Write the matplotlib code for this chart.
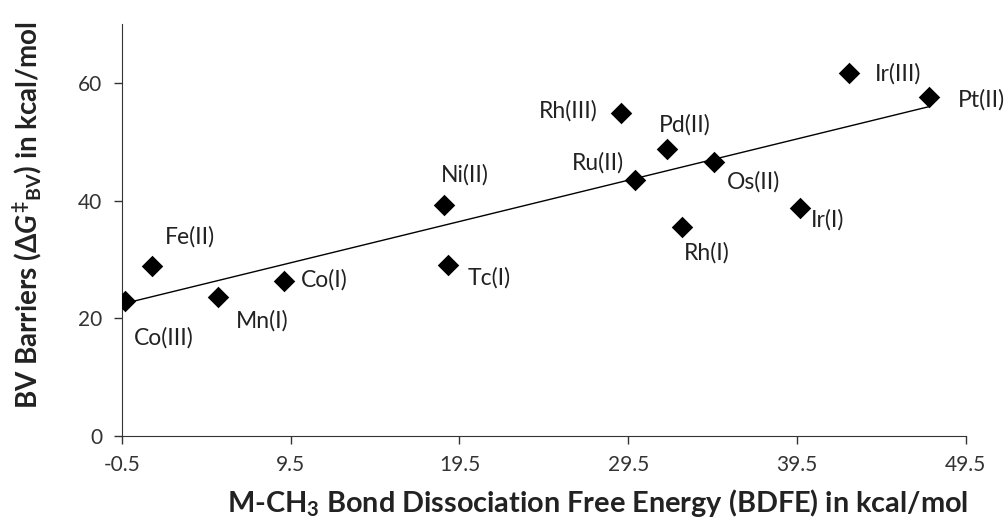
import numpy as np
import matplotlib
matplotlib.use("Agg")
import matplotlib.pyplot as plt

plt.rcParams['font.family'] = ['Lato', 'DejaVu Sans']
plt.rcParams['mathtext.fontset'] = 'custom'
plt.rcParams['mathtext.rm'] = 'Lato:bold'
plt.rcParams['mathtext.bf'] = 'Lato:bold'
plt.rcParams['mathtext.it'] = 'Lato:bold:italic'

labels = ["Co(III)", "Fe(II)", "Mn(I)", "Co(I)", "Ni(II)", "Tc(I)", "Rh(III)",
          "Ru(II)", "Pd(II)", "Rh(I)", "Os(II)", "Ir(I)", "Ir(III)", "Pt(II)"]
bdfe = [-0.3, 1.3, 5.2, 9.1, 18.6, 18.8, 29.1, 29.9, 31.8, 32.7, 34.6, 39.7, 42.6, 47.3]
barrier = [22.9, 28.9, 23.7, 26.3, 39.3, 29.0, 54.9, 43.5, 48.8, 35.5, 46.6, 38.8, 61.7, 57.6]
x_ticks = [-0.5, 9.5, 19.5, 29.5, 39.5, 49.5]
y_ticks = [0, 20, 40, 60]

# label offsets in pixels (dx, dy, ha)
offsets = {
    "Co(III)": (9, -37, 'left'), "Fe(II)": (13, 29, 'left'), "Mn(I)": (18, -24, 'left'),
    "Co(I)": (17, 1, 'left'), "Ni(II)": (-3, 30, 'left'), "Tc(I)": (20, -12, 'left'),
    "Rh(III)": (-24, 2, 'right'), "Ru(II)": (-11, 17, 'right'), "Pd(II)": (-8, 24, 'left'),
    "Rh(I)": (2, -26, 'left'), "Os(II)": (13, -20, 'left'), "Ir(I)": (11, -12, 'left'),
    "Ir(III)": (26, -1, 'left'), "Pt(II)": (29, -3, 'left'),
}

fig = plt.figure(figsize=(10.08, 5.29), dpi=100)
ax = fig.add_axes([0.121, 0.1758, 0.837, 0.7788])

x = np.array(bdfe)
y = np.array(barrier)
k, b = np.polyfit(x, y, 1)
xl = np.array([x.min(), x.max()])
ax.plot(xl, k * xl + b, color='black', lw=1.0, zorder=2)
ax.scatter(x, y, marker='D', s=120, color='black', zorder=3, linewidths=0)

for lab, xi, yi in zip(labels, bdfe, barrier):
    dx, dy, ha = offsets[lab]
    ax.annotate(lab, (xi, yi), xytext=(dx, dy), textcoords='offset pixels',
                ha=ha, va='center', fontsize=16.5, color='#222222',
                annotation_clip=False)

ax.set_xlim(-0.5, 49.5)
ax.set_ylim(0, 70)
ax.set_xticks(x_ticks)
ax.set_xticklabels([f"{t:g}" for t in x_ticks])
ax.set_yticks(y_ticks)
for s in ['top', 'right']:
    ax.spines[s].set_visible(False)
ax.spines['left'].set_color('#333333')
ax.spines['bottom'].set_color('#333333')
ax.tick_params(direction='out', length=6, width=1, colors='#333333',
               labelsize=15, labelcolor='#333333', pad=8)

ax.set_xlabel(r"M-CH$_\mathregular{3}$ Bond Dissociation Free Energy (BDFE) in kcal/mol",
              fontsize=20.8, fontweight='bold', color='#222222', va='center', ha='center')
ax.xaxis.set_label_coords(0.564, -0.163)
ax.set_ylabel(r"BV Barriers ($\Delta G^{\ddagger}{}_{\mathregular{BV}}$) in kcal/mol",
              fontsize=20, fontweight='bold', color='#222222', va='center', ha='center')
ax.yaxis.set_label_coords(-0.1126, 0.536)

fig.savefig("out.png", dpi=100)
